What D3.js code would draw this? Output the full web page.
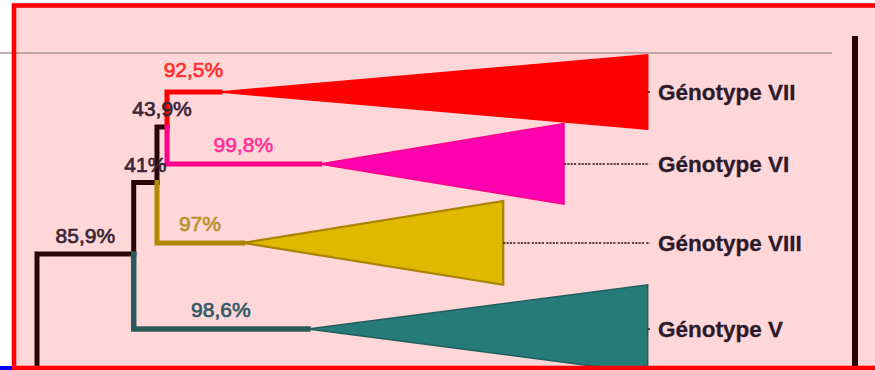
<!DOCTYPE html>
<html>
<head>
<meta charset="utf-8">
<script src="https://cdn.jsdelivr.net/npm/d3@7"></script>
<style>
html,body{margin:0;padding:0;background:#fff;overflow:hidden;}
svg{display:block;}
</style>
</head>
<body>
<svg id="chart" width="875" height="370"></svg>
<script>
// ---------- data ----------
const genotypes    = ["Génotype VII", "Génotype VI", "Génotype VIII", "Génotype V"];
const cladeSupport = ["92,5%", "99,8%", "97%", "98,6%"];
const cladeStart   = [29.5, 45.6, 33.2, 43.7];   // branch distance of clade apex
const cladeEnd     = [98.5, 85.0, 75.2, 98.5];   // branch distance of clade far edge
const cladePos     = [0, 0.91, 1.91, 3.0];       // vertical leaf order position
const cladeSpread  = [0.47, 0.51, 0.53, 0.56];   // half height of clade triangle
const cladeParent  = ["C", "C", "B", "A"];

const nodeIds      = ["R", "A", "B", "C"];
const nodeDist     = [0, 15.6, 19.35, 20.97];
const nodePos      = [4.0, 2.05, 1.146, 0.443];
const nodeParent   = [null, "R", "A", "B"];
const nodeSupport  = [null, "85,9%", "41%", "43,9%"];

// ---------- styles ----------
const cladeFill   = ["#ff0000", "#ff00b0", "#dfb800", "#267a78"];
const cladeStroke = ["#ff0000", "#ff0088", "#a88200", "#1f5e5c"];
const cladeLine   = ["#ff0000", "#ff0088", "#b08800", "#2a5a5a"];
const cladeText   = ["#ff3030", "#ff3399", "#b8902a", "#305a66"];
const darkLine = "#2a0505";
const darkText = "#3a2434";
const FONT = "'Liberation Sans', Arial, sans-serif";

const svg = d3.select("#chart");
const x = d3.scaleLinear().domain([0, 100]).range([37, 657]);
const y = d3.scaleLinear().domain([0, 3]).range([92, 329]);

const nodes = {};
nodeIds.forEach((id, i) => nodes[id] = {x: nodeDist[i], y: nodePos[i]});

// background frame fill
svg.append("rect").attr("x", 14).attr("y", 5.5).attr("width", 880).attr("height", 362.5)
  .attr("fill", "#ffd7d9");

// grey rule
svg.append("line").attr("x1", 0).attr("x2", 832).attr("y1", 53).attr("y2", 53)
  .attr("stroke", "#ab9292").attr("stroke-width", 1.3);

// elbow link
const elbow = (p, c) => `M${x(p.x)},${y(p.y)}V${y(c.y)}H${x(c.x)}`;

const g = svg.append("g");

// internal links
nodeIds.forEach((id, i) => {
  if (!nodeParent[i]) return;
  const p = nodes[nodeParent[i]], c = nodes[id];
  g.append("path").attr("d", elbow(p, c)).attr("fill", "none")
    .attr("stroke", darkLine).attr("stroke-width", 5)
    .attr("stroke-linecap", "square").attr("stroke-linejoin", "miter");
});

// clade links
genotypes.forEach((name, i) => {
  const p = nodes[cladeParent[i]];
  const c = {x: cladeStart[i], y: cladePos[i]};
  g.append("path").attr("d", elbow(p, c)).attr("fill", "none")
    .attr("stroke", cladeLine[i]).attr("stroke-width", i === 3 ? 5.5 : 5)
    .attr("stroke-linecap", "square").attr("stroke-linejoin", "miter");
});

genotypes.forEach((name, i) => {
  const x0 = x(cladeStart[i]), x1 = x(cladeEnd[i]);
  const yc = y(cladePos[i]);
  const h = y(cladeSpread[i]) - y(0);
  g.append("path")
    .attr("d", `M${x0},${yc}L${x1},${yc - h}L${x1},${yc + h}Z`)
    .attr("fill", cladeFill[i]).attr("stroke", cladeStroke[i])
    .attr("stroke-width", i === 2 ? 2.2 : 1.5).attr("stroke-linejoin", "miter");
  // leader line
  g.append("line").attr("x1", x1).attr("x2", x(100) - 7)
    .attr("y1", yc).attr("y2", yc)
    .attr("stroke", "#2a1010").attr("stroke-width", 1.5)
    .attr("stroke-dasharray", "2.2,1.1,2.2,1.1,2.2,1.1,2.2,2.2");
  // genotype label
  g.append("text").attr("x", x(100) + 1).attr("y", yc + 8)
    .attr("font-family", FONT)
    .attr("font-weight", "bold").attr("font-size", 22.5)
    .attr("fill", "#2a1a2a").attr("stroke", "#2a1a2a").attr("stroke-width", 0.3)
    .text(name);
  // support label on clade branch
  const p = nodes[cladeParent[i]];
  g.append("text").attr("x", (x(p.x) + x0) / 2).attr("y", yc - (i === 0 ? 15 : 12))
    .attr("text-anchor", "middle")
    .attr("font-family", FONT)
    .attr("font-size", 21).attr("fill", cladeText[i])
    .attr("stroke", cladeText[i]).attr("stroke-width", 0.7)
    .text(cladeSupport[i]);
});

// internal support labels
nodeIds.forEach((id, i) => {
  if (!nodeSupport[i]) return;
  const p = nodes[nodeParent[i]], c = nodes[id];
  g.append("text").attr("x", (x(p.x) + x(c.x)) / 2).attr("y", y(c.y) - 11)
    .attr("text-anchor", "middle")
    .attr("font-family", FONT)
    .attr("font-size", 21).attr("fill", darkText)
    .attr("stroke", darkText).attr("stroke-width", 0.7)
    .text(nodeSupport[i]);
});

// right black bar
svg.append("line").attr("x1", 855).attr("x2", 855).attr("y1", 36).attr("y2", 368)
  .attr("stroke", "#2a0000").attr("stroke-width", 6);

// frame border
svg.append("rect").attr("x", 14).attr("y", 5.5).attr("width", 880).attr("height", 362.5)
  .attr("fill", "none").attr("stroke", "#ff0000").attr("stroke-width", 4.6);

// blue stub bottom-left
svg.append("rect").attr("x", 0).attr("y", 366).attr("width", 12).attr("height", 4)
  .attr("fill", "#0000ff");
</script>
</body>
</html>
